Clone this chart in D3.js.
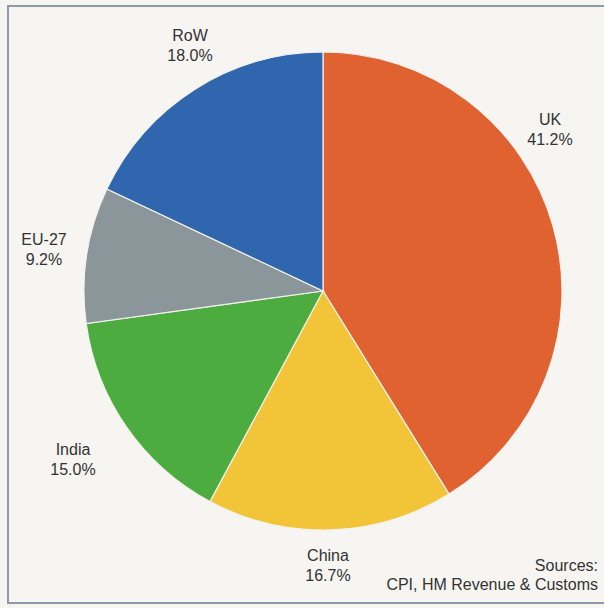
<html>
<head>
<script src="https://cdnjs.cloudflare.com/ajax/libs/d3/7.8.5/d3.min.js"></script>
<style>
  body { margin: 0; background: #f6f5f2; }
</style>
</head>
<body>
<div id="chartContainer"></div>
<script>
  // Slice data, clockwise from 12 o'clock
  var regions = ["UK", "China", "India", "EU-27", "RoW"];
  var shares = [41.2, 16.7, 15.0, 9.2, 18.0];
  var colors = ["#df6230", "#f2c437", "#4dac3f", "#8a9699", "#2f66ad"];
  // label anchor points (centre of the two-line label)
  var labelPos = [[550, 130], [328, 566], [73, 460], [44, 250], [190, 46]];
  var sources = ["Sources:", "CPI, HM Revenue & Customs"];

  var data = regions.map(function (r, i) {
    return { region: r, share: shares[i], color: colors[i], pos: labelPos[i] };
  });

  var svg = d3.select("#chartContainer").append("svg")
    .attr("width", 604).attr("height", 608);

  svg.append("rect")
    .attr("width", 604).attr("height", 608)
    .attr("fill", "#f6f5f2");

  // frame, open on the right side
  svg.append("path")
    .attr("d", "M604,6 H8 V603 H604")
    .attr("fill", "none")
    .attr("stroke", "#8d99ab")
    .attr("stroke-width", 2);

  var pie = d3.pie().sort(null).value(function (d) { return d.share; });
  var arc = d3.arc().innerRadius(0).outerRadius(239);

  var g = svg.append("g").attr("transform", "translate(323,291)");
  g.selectAll("path")
    .data(pie(data))
    .enter()
    .append("path")
      .attr("d", arc)
      .attr("fill", function (d) { return d.data.color; })
      .attr("stroke", "#f4f2ee")
      .attr("stroke-width", 1.2);

  var labels = svg.selectAll("g.label")
    .data(data)
    .enter()
    .append("g")
      .attr("class", "label")
      .attr("transform", function (d) { return "translate(" + d.pos[0] + "," + d.pos[1] + ")"; });

  labels.append("text")
    .attr("y", -5)
    .style("text-anchor", "middle")
    .style("font-family", "Liberation Sans, Arial, sans-serif")
    .style("font-size", "16px")
    .style("fill", "#333")
    .text(function (d) { return d.region; });

  labels.append("text")
    .attr("y", 15)
    .style("text-anchor", "middle")
    .style("font-family", "Liberation Sans, Arial, sans-serif")
    .style("font-size", "16px")
    .style("fill", "#333")
    .text(function (d) { return d.share.toFixed(1) + "%"; });

  svg.selectAll("text.src")
    .data(sources)
    .enter()
    .append("text")
      .attr("class", "src")
      .attr("x", 598)
      .attr("y", function (d, i) { return 571 + i * 19; })
      .style("text-anchor", "end")
      .style("font-family", "Liberation Sans, Arial, sans-serif")
      .style("font-size", "16px")
      .style("fill", "#333")
      .text(function (d) { return d; });
</script>
</body>
</html>
